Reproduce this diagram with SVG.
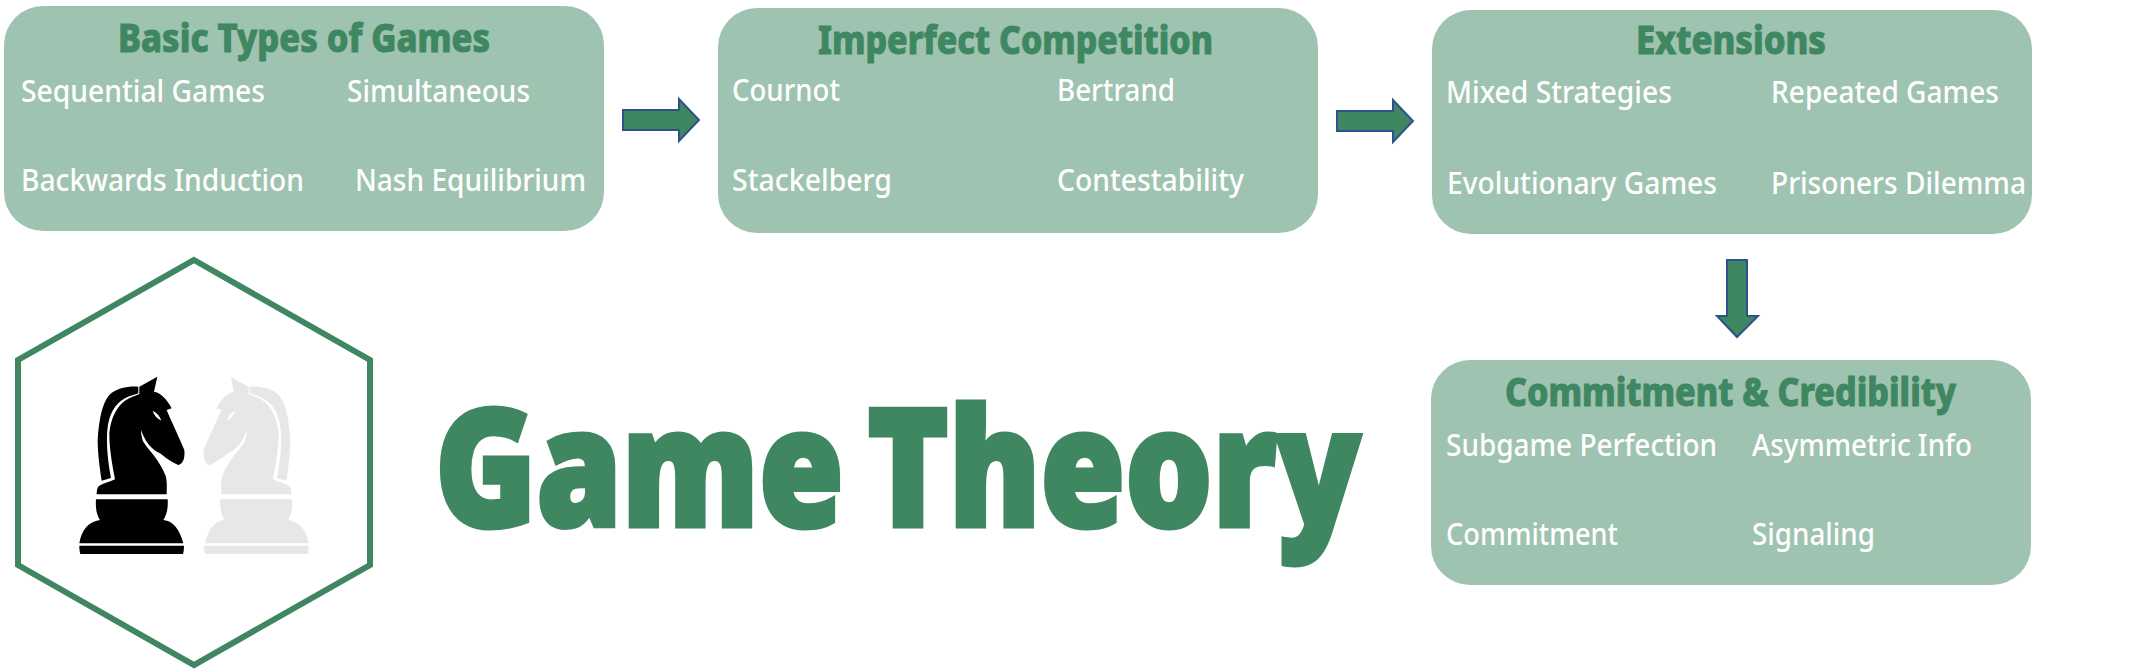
<svg xmlns="http://www.w3.org/2000/svg" xmlns:xlink="http://www.w3.org/1999/xlink" width="2131" height="672" viewBox="0 0 2131 672">
<style>
.box{fill:#9fc3b1}
.h{font-family:"Noto Sans","Liberation Sans",sans-serif;font-weight:800;font-size:40px;fill:#3f8761;stroke:#3f8761;stroke-width:1}
.t{font-family:"Noto Sans","Liberation Sans",sans-serif;font-weight:500;font-size:31px;fill:#fff}
.arrow{fill:#3f8761;stroke:#2f528f;stroke-width:2}
.big{font-family:"Noto Sans","Liberation Sans",sans-serif;font-weight:900;font-size:164px;fill:#3f8761;stroke:#3f8761;stroke-width:5;word-spacing:-14px}
</style>
<defs>
<g id="knight">
<path d="M415 410C390 408 350 412 328 435C306 460 297 510 293 570C293 610 300 660 305 692L333 684C325 640 318 590 322 540C326 495 345 460 375 445C390 437 405 434 415 430Z"/>
<path fill-rule="evenodd" d="M418 432L418 410L472 380L462 425C480 428 500 445 515 475L500 480C510 505 530 545 553 600C555 620 552 640 535 645C522 640 505 630 480 610C460 600 440 585 425 545C420 530 425 565 430 575C445 600 480 630 498 680C502 700 500 720 500 733L290 733C290 722 292 712 297 708C310 700 330 695 345 688C338 650 328 600 328 550C332 505 350 470 375 452C390 442 405 438 418 432ZM458 482C462 495 470 505 484 512C480 498 470 488 458 482Z"/>
<path d="M288 748L503 748C505 775 500 795 490 810C520 812 540 840 550 880L238 880C245 840 265 815 300 810C290 795 286 775 288 748Z"/>
<path d="M238 887L552 887C552 897 551 905 549 912L241 912C239 905 238 897 238 887Z"/>
</g>
</defs>
<g id="connectors">
<path class="arrow" d="M623 110H679V99L699 120L679 141V130H623Z"/>
<path class="arrow" d="M1337 111H1393V100L1413 121L1393 142V131H1337Z"/>
<path class="arrow" d="M1727 260H1747V316H1758L1737 337L1717 316H1727Z"/>
</g>
<g id="node-basic">
<rect class="box" x="4" y="6" width="600" height="225" rx="39"/>
<text class="h" x="118" y="52" textLength="372" lengthAdjust="spacingAndGlyphs">Basic Types of Games</text>
<text class="t" x="21" y="102" textLength="244" lengthAdjust="spacingAndGlyphs">Sequential Games</text>
<text class="t" x="347" y="102" textLength="183" lengthAdjust="spacingAndGlyphs">Simultaneous</text>
<text class="t" x="21" y="191" textLength="283" lengthAdjust="spacingAndGlyphs">Backwards Induction</text>
<text class="t" x="355" y="191" textLength="231" lengthAdjust="spacingAndGlyphs">Nash Equilibrium</text>
</g>
<g id="node-imperfect">
<rect class="box" x="718" y="8" width="600" height="225" rx="39"/>
<text class="h" x="818" y="54" textLength="395" lengthAdjust="spacingAndGlyphs">Imperfect Competition</text>
<text class="t" x="732" y="101" textLength="108" lengthAdjust="spacingAndGlyphs">Cournot</text>
<text class="t" x="1057" y="101" textLength="118" lengthAdjust="spacingAndGlyphs">Bertrand</text>
<text class="t" x="732" y="191" textLength="160" lengthAdjust="spacingAndGlyphs">Stackelberg</text>
<text class="t" x="1057" y="191" textLength="187" lengthAdjust="spacingAndGlyphs">Contestability</text>
</g>
<g id="node-extensions">
<rect class="box" x="1432" y="10" width="600" height="224" rx="39"/>
<text class="h" x="1636" y="54" textLength="190" lengthAdjust="spacingAndGlyphs">Extensions</text>
<text class="t" x="1446" y="103" textLength="226" lengthAdjust="spacingAndGlyphs">Mixed Strategies</text>
<text class="t" x="1771" y="103" textLength="228" lengthAdjust="spacingAndGlyphs">Repeated Games</text>
<text class="t" x="1447" y="194" textLength="270" lengthAdjust="spacingAndGlyphs">Evolutionary Games</text>
<text class="t" x="1771" y="194" textLength="255" lengthAdjust="spacingAndGlyphs">Prisoners Dilemma</text>
</g>
<g id="node-commitment">
<rect class="box" x="1431" y="360" width="600" height="225" rx="39"/>
<text class="h" x="1505" y="406" textLength="451" lengthAdjust="spacingAndGlyphs">Commitment &amp; Credibility</text>
<text class="t" x="1446" y="456" textLength="271" lengthAdjust="spacingAndGlyphs">Subgame Perfection</text>
<text class="t" x="1752" y="456" textLength="220" lengthAdjust="spacingAndGlyphs">Asymmetric Info</text>
<text class="t" x="1446" y="545" textLength="172" lengthAdjust="spacingAndGlyphs">Commitment</text>
<text class="t" x="1752" y="545" textLength="123" lengthAdjust="spacingAndGlyphs">Signaling</text>
</g>
<g id="node-logo">
<polygon points="194,260 370,360 370,565 194,665 18,565 18,360" fill="#fff" stroke="#3f8761" stroke-width="6"/>
<use xlink:href="#knight" href="#knight" transform="translate(0,250) scale(.3333)" fill="#000"/>
<use xlink:href="#knight" href="#knight" transform="translate(388,250) scale(-.3333,.3333)" fill="#e7e7e7"/>
</g>
<g id="node-title">
<text class="big" transform="translate(435,526) scale(.836,1)" x="0" y="0">Game Theory</text>
</g>
</svg>
